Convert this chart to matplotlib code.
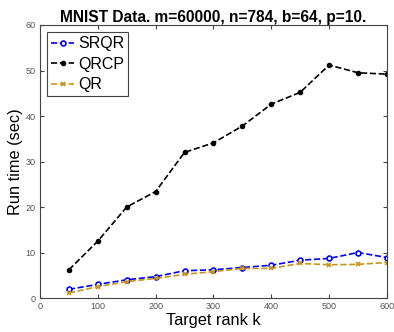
import matplotlib
matplotlib.use("Agg")
import matplotlib.pyplot as plt

# ── Data ────────────────────────────────────────────────────────────────
ranks = [50, 100, 150, 200, 250, 300, 350, 400, 450, 500, 550, 600]
srqr = [1.9, 3.0, 4.0, 4.7, 6.0, 6.2, 6.7, 7.2, 8.3, 8.7, 10.0, 8.9]
qrcp = [6.2, 12.5, 20.0, 23.4, 32.0, 34.1, 37.8, 42.6, 45.2, 51.2, 49.5, 49.2]
qr = [1.1, 2.5, 3.6, 4.3, 5.2, 5.8, 6.5, 6.5, 7.6, 7.3, 7.4, 7.8]

plt.rcParams["font.family"] = ["Liberation Sans", "DejaVu Sans"]

fig = plt.figure(figsize=(3.94, 3.32), dpi=100)
ax = fig.add_axes([0.1015, 0.1024, 0.8805, 0.8223])

ax.plot(ranks, srqr, "--o", color="blue", lw=1.2, ms=3.5, mfc="white", mew=1.2, label="SRQR")
ax.plot(ranks, qrcp, "--o", color="black", lw=1.2, ms=3, label="QRCP")
ax.plot(ranks, qr, "--x", color="#C8961E", lw=1.2, ms=3, mew=1.2, label="QR")

ax.set_xlim(0, 600)
ax.set_ylim(0, 60)
ax.set_xticks(range(0, 601, 100))
ax.set_yticks(range(0, 61, 10))
ax.tick_params(direction="in", length=3, labelsize=6.5, labelcolor="#555555", color="#444444",
               top=True, right=True, pad=3)
for s in ax.spines.values():
    s.set_color("#444444")
    s.set_linewidth(0.8)

ax.set_xlabel("Target rank k", fontsize=11.8, labelpad=1)
ax.set_ylabel("Run time (sec)", fontsize=11.8, labelpad=2)
ax.set_title("MNIST Data. m=60000, n=784, b=64, p=10.", fontsize=11.2, fontweight="bold", pad=2)

leg = ax.legend(loc="upper left", fontsize=11.5, handlelength=1.45, handletextpad=0.25,
                borderpad=0.25, labelspacing=0.35, fancybox=False, framealpha=1,
                bbox_to_anchor=(0.0, 1.0), borderaxespad=0.45)
leg.get_frame().set_edgecolor("#444444")
leg.get_frame().set_linewidth(0.8)

fig.savefig("out.png", dpi=100)
